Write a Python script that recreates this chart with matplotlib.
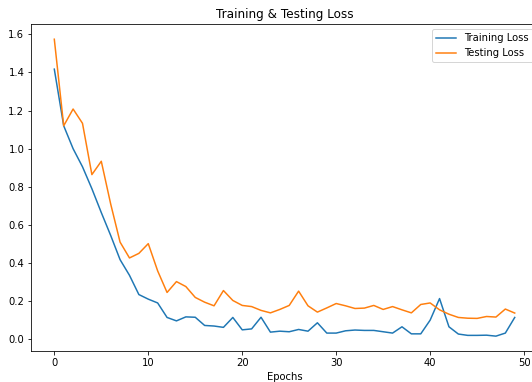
import numpy as np
import matplotlib
matplotlib.use('Agg')
import matplotlib.pyplot as plt

# loss values per epoch
epochs = np.arange(50)
train_loss = [1.417, 1.12, 1.0, 0.905, 0.79, 0.665, 0.545, 0.418, 0.336, 0.235,
              0.211, 0.191, 0.115, 0.097, 0.118, 0.116, 0.073, 0.070, 0.063, 0.115,
              0.050, 0.055, 0.116, 0.038, 0.043, 0.040, 0.052, 0.043, 0.087, 0.033,
              0.033, 0.045, 0.049, 0.047, 0.047, 0.040, 0.033, 0.066, 0.029, 0.029,
              0.101, 0.214, 0.066, 0.028, 0.021, 0.021, 0.022, 0.017, 0.033, 0.115]
test_loss = [1.574, 1.12, 1.208, 1.133, 0.864, 0.934, 0.71, 0.51, 0.427, 0.451,
             0.502, 0.359, 0.246, 0.303, 0.277, 0.220, 0.195, 0.176, 0.256, 0.204,
             0.178, 0.172, 0.152, 0.139, 0.157, 0.178, 0.253, 0.176, 0.143, 0.165,
             0.188, 0.176, 0.162, 0.164, 0.178, 0.157, 0.172, 0.155, 0.139, 0.183,
             0.191, 0.155, 0.132, 0.115, 0.111, 0.110, 0.120, 0.117, 0.159, 0.138]

fig = plt.figure(figsize=(532 / 72, 382 / 72), dpi=72)
# the reference is cropped on the right, so the axes run past the figure edge
ax = fig.add_axes([0.0588, 0.0812, 0.952, 0.855])

ax.plot(epochs, train_loss, label='Training Loss')
ax.plot(epochs, test_loss, label='Testing Loss')

ax.set_title('Training & Testing Loss')
ax.set_xlabel('Epochs')
ax.legend(loc='upper right')

fig.savefig('out.png', dpi=72)
